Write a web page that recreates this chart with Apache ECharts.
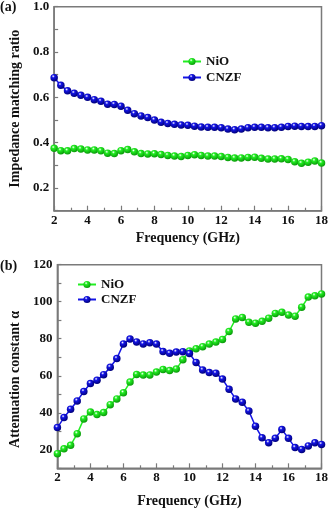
<!DOCTYPE html>
<html>
<head>
<meta charset="utf-8">
<script src="https://cdn.jsdelivr.net/npm/echarts@6/dist/echarts.min.js"></script>
<style>
  html, body { margin: 0; padding: 0; background: #fff; }
  #chart { width: 331px; height: 510px; }
</style>
</head>
<body>
<div id="chart"></div>
<script>
// Frequency sweep (GHz)
const freq = [2, 2.4, 2.8, 3.2, 3.6, 4, 4.4, 4.8, 5.2, 5.6, 6, 6.4, 6.8, 7.2, 7.6, 8, 8.4, 8.8, 9.2, 9.6,
  10, 10.4, 10.8, 11.2, 11.6, 12, 12.4, 12.8, 13.2, 13.6, 14, 14.4, 14.8, 15.2, 15.6, 16, 16.4, 16.8, 17.2, 17.6, 18];

// (a) impedance matching ratio
const zNiO = [0.375, 0.365, 0.364, 0.374, 0.372, 0.368, 0.368, 0.364, 0.354, 0.352, 0.365, 0.370, 0.360, 0.352,
  0.350, 0.351, 0.348, 0.344, 0.341, 0.339, 0.344, 0.347, 0.344, 0.341, 0.341, 0.339, 0.335, 0.332, 0.333, 0.335,
  0.336, 0.331, 0.328, 0.328, 0.329, 0.326, 0.316, 0.309, 0.314, 0.319, 0.310];
const zCNZF = [0.687, 0.653, 0.629, 0.618, 0.609, 0.600, 0.590, 0.583, 0.570, 0.569, 0.561, 0.543, 0.528, 0.518,
  0.511, 0.500, 0.490, 0.485, 0.481, 0.478, 0.477, 0.473, 0.469, 0.468, 0.468, 0.466, 0.460, 0.457, 0.460, 0.466,
  0.468, 0.468, 0.466, 0.466, 0.468, 0.472, 0.473, 0.472, 0.471, 0.472, 0.475];

// (b) attenuation constant
const aNiO = [17.9, 20.5, 22.4, 28.7, 36.7, 40.4, 39.0, 40.1, 44.4, 47.5, 50.8, 56.6, 60.7, 60.4, 60.4, 62.0,
  63.4, 62.8, 63.6, 68.7, 73.4, 74.6, 75.7, 77.1, 78.2, 79.6, 83.9, 90.7, 91.5, 88.9, 88.4, 89.4, 91.1, 93.7,
  94.3, 92.8, 92.2, 97.0, 102.5, 103.2, 104.2];
const aCNZF = [32.0, 37.4, 41.9, 46.4, 51.5, 55.8, 57.6, 60.6, 64.6, 69.3, 77.2, 79.8, 78.3, 77.2, 77.8, 77.1,
  73.1, 72.1, 72.8, 73.0, 72.0, 67.2, 63.1, 61.7, 61.4, 58.2, 52.7, 47.5, 45.7, 40.9, 32.7, 26.5, 23.8, 26.2,
  30.9, 26.2, 21.2, 20.2, 22.1, 23.8, 22.9];

const xTicks = [2, 4, 6, 8, 10, 12, 14, 16, 18];
const zTicks = [0.2, 0.4, 0.6, 0.8, 1.0];
const aTicks = [20, 40, 60, 80, 100, 120];

const FONT = '"Liberation Serif", "Times New Roman", serif';
const GREEN = '#22ee22', GREEN_D = '#0a9a0a';
const BLUE = '#1414e6', BLUE_D = '#00007a';
const AXIS = '#7a7a7a';

function ball(c, d) {
  return new echarts.graphic.RadialGradient(0.38, 0.32, 0.68, [
    { offset: 0, color: '#ffffff' },
    { offset: 0.3, color: c },
    { offset: 1, color: d }
  ]);
}

function pairs(xs, ys) { return xs.map((x, i) => [x, ys[i]]); }

function series(name, xi, ys, c, d) {
  return {
    name: name, type: 'line', xAxisIndex: xi, yAxisIndex: xi,
    data: pairs(freq, ys),
    symbol: 'circle', symbolSize: 7.5,
    lineStyle: { color: c, width: 1.5 },
    itemStyle: { color: ball(c, d) },
    emphasis: { disabled: true },
    animation: false
  };
}

const labelStyle = { fontFamily: FONT, fontWeight: 'bold', fontSize: 13, color: '#111' };
const nameStyle = { fontFamily: FONT, fontWeight: 'bold', fontSize: 14, color: '#111' };

function xAxis(gi, gap) {
  return {
    type: 'value', gridIndex: gi, min: 2, max: 18, interval: 2,
    name: 'Frequency (GHz)', nameLocation: 'middle', nameGap: gap, nameTextStyle: nameStyle,
    axisLine: { show: true, lineStyle: { color: AXIS, width: 1.5 } },
    axisTick: { show: true, inside: true, length: 5, lineStyle: { color: AXIS, width: 1.2 } },
    minorTick: { show: true, splitNumber: 2, length: 3, lineStyle: { color: AXIS, width: 1.2 } },
    axisLabel: Object.assign({ margin: 3, formatter: v => xTicks.includes(v) ? String(v) : '' }, labelStyle),
    splitLine: { show: false }
  };
}

function yAxis(gi, min, max, step, ticks, name, gap, fmt, pad) {
  return {
    type: 'value', gridIndex: gi, min: min, max: max, interval: step / 2,
    name: name, nameLocation: 'middle', nameGap: gap,
    nameTextStyle: Object.assign({ padding: pad }, nameStyle),
    axisLine: { show: true, lineStyle: { color: AXIS, width: 1.5 } },
    axisTick: { show: true, inside: true, length: 4, lineStyle: { color: AXIS, width: 1.2 } },
    axisLabel: Object.assign({
      margin: 5,
      formatter: v => {
        const t = ticks.find(k => Math.abs(k - v) < 1e-6);
        return t === undefined ? '' : fmt(t);
      }
    }, labelStyle),
    splitLine: { show: false }
  };
}

const chart = echarts.init(document.getElementById('chart'), null, { renderer: 'canvas' });
chart.setOption({
  backgroundColor: '#fff',
  animation: false,
  grid: [
    { left: 51, right: 6, top: 6.7, bottom: 299.3, show: true, borderColor: AXIS, borderWidth: 1.5 },
    { left: 49, right: 6, top: 264.7, bottom: 41.7, show: true, borderColor: AXIS, borderWidth: 1.5 }
  ],
  xAxis: [xAxis(0, 21), xAxis(1, 26)],
  yAxis: [
    yAxis(0, 0.1, 1.0, 0.2, zTicks, 'Impedance matching ratio', 31, t => t.toFixed(1), [0, 0, 0, 0]),
    yAxis(1, 10, 120, 20, aTicks, 'Attenuation constant \u03b1', 30, t => String(t), [0, 26, 0, 0])
  ],
  legend: [
    {
      data: ['NiO', 'CNZF'], orient: 'vertical', left: 177, top: 50,
      itemWidth: 18, itemHeight: 9, itemGap: 3,
      textStyle: { fontFamily: FONT, fontWeight: 'bold', fontSize: 13, color: '#111' },
      selectedMode: false
    },
    {
      data: ['NiO', 'CNZF'], orient: 'vertical', left: 72, top: 273,
      itemWidth: 18, itemHeight: 9, itemGap: 2,
      textStyle: { fontFamily: FONT, fontWeight: 'bold', fontSize: 13, color: '#111' },
      selectedMode: false
    }
  ],
  graphic: [
    { type: 'text', left: 0, top: 0, style: { text: '(a)', font: 'bold 14px ' + FONT, fill: '#111' } },
    { type: 'text', left: 0, top: 259, style: { text: '(b)', font: 'bold 14px ' + FONT, fill: '#111' } }
  ],
  series: [
    series('NiO', 0, zNiO, GREEN, GREEN_D),
    series('CNZF', 0, zCNZF, BLUE, BLUE_D),
    series('NiO', 1, aNiO, GREEN, GREEN_D),
    series('CNZF', 1, aCNZF, BLUE, BLUE_D)
  ]
});
</script>
</body>
</html>
